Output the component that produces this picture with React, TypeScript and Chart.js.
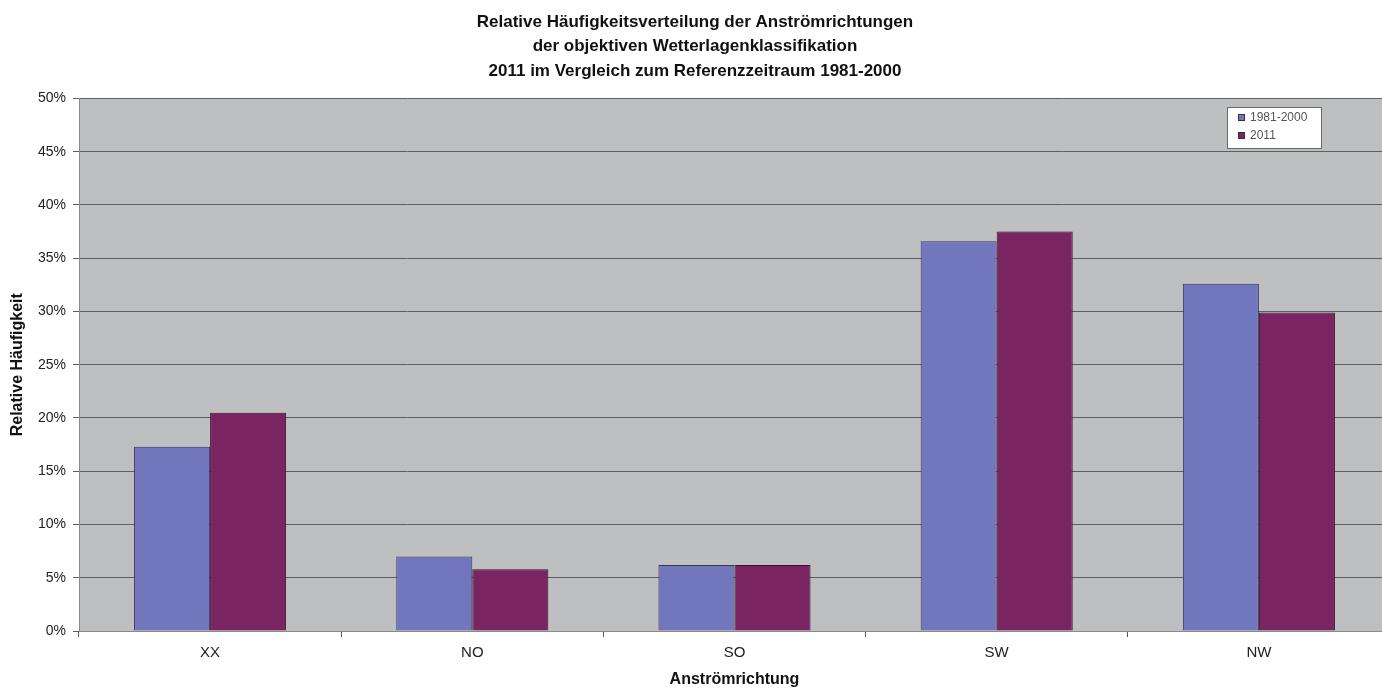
import React, { useEffect, useRef } from "react";
import { Chart, registerables } from "chart.js";

Chart.register(...registerables);

const categories = ["XX", "NO", "SO", "SW", "NW"];
const seriesLabels = ["1981-2000", "2011"];
const values1981 = [17.3, 7.0, 6.2, 36.6, 32.6];
const values2011 = [20.5, 5.8, 6.2, 37.5, 29.9];
const titleLines = [
  "Relative Häufigkeitsverteilung der Anströmrichtungen",
  "der objektiven Wetterlagenklassifikation",
  "2011 im Vergleich zum Referenzzeitraum 1981-2000",
];
const yTitle = "Relative Häufigkeit";
const xTitle = "Anströmrichtung";

const FONT = "'Liberation Sans', Arial, sans-serif";

const bgPlugin = {
  id: "plotBg",
  beforeDraw(chart: any) {
    const { ctx, chartArea } = chart;
    if (!chartArea) return;
    ctx.save();
    ctx.fillStyle = "#bdbfc0";
    ctx.fillRect(chartArea.left, chartArea.top, chartArea.right - chartArea.left, chartArea.bottom - chartArea.top);
    ctx.restore();
  },
};

const legendPlugin = {
  id: "boxLegend",
  afterDraw(chart: any) {
    const { ctx } = chart;
    const x = 1227, y = 107, w = 94, h = 41;
    ctx.save();
    ctx.fillStyle = "#ffffff";
    ctx.fillRect(x, y, w, h);
    ctx.strokeStyle = "#6a6a6a";
    ctx.lineWidth = 1;
    ctx.strokeRect(x + 0.5, y + 0.5, w, h);
    chart.data.datasets.forEach((ds: any, i: number) => {
      const iy = y + 10 + i * 18;
      ctx.fillStyle = ds.backgroundColor;
      ctx.fillRect(x + 11, iy - 3, 7, 7);
      ctx.strokeStyle = "#333";
      ctx.strokeRect(x + 11.5, iy - 2.5, 6, 6);
      ctx.fillStyle = "#555";
      ctx.font = `12px ${FONT}`;
      ctx.textBaseline = "middle";
      ctx.fillText(ds.label, x + 23, iy + 1);
    });
    ctx.restore();
  },
};

export default function App() {
  const ref = useRef<HTMLCanvasElement | null>(null);
  useEffect(() => {
    if (!ref.current) return;
    const chart = new Chart(ref.current, {
      type: "bar",
      data: {
        labels: categories,
        datasets: [
          {
            label: seriesLabels[0],
            data: values1981,
            backgroundColor: "#7276bd",
            borderColor: "#34365a",
            borderWidth: 1,
          },
          {
            label: seriesLabels[1],
            data: values2011,
            backgroundColor: "#7b2462",
            borderColor: "#3a1030",
            borderWidth: 1,
          },
        ],
      },
      options: {
        animation: false,
        responsive: true,
        maintainAspectRatio: false,
        layout: { padding: { left: 0, right: 0, top: 0, bottom: 0 } },
        datasets: { bar: { categoryPercentage: 0.58, barPercentage: 1.0 } },
        plugins: {
          legend: { display: false },
          tooltip: { enabled: false },
          title: {
            display: true,
            text: titleLines,
            color: "#111",
            font: { family: FONT, size: 17, weight: "bold", lineHeight: 1.44 },
            padding: { top: 10, bottom: 15 },
          },
        },
        scales: {
          x: {
            grid: {
              display: true,
              drawOnChartArea: false,
              offset: true,
              tickLength: 6,
              color: "#555",
            },
            border: { display: true, color: "#8a8a8a" },
            ticks: { color: "#222", font: { family: FONT, size: 15 }, padding: 7 },
            title: {
              display: true,
              text: xTitle,
              color: "#111",
              font: { family: FONT, size: 16, weight: "bold" },
              padding: { top: 0, bottom: 0 },
            },
            afterFit(scale: any) {
              scale.height = 58;
            },
          },
          y: {
            min: 0,
            max: 50,
            ticks: {
              stepSize: 5,
              color: "#222",
              font: { family: FONT, size: 14 },
              padding: 7,
              callback: (v: any) => v + "%",
            },
            grid: {
              color: "#5e5e5e",
              tickLength: 6,
              drawTicks: true,
            },
            border: { display: true, color: "#8a8a8a" },
            title: {
              display: true,
              text: yTitle,
              color: "#111",
              font: { family: FONT, size: 16, weight: "bold" },
              padding: { top: 8, bottom: 2 },
            },
            afterFit(scale: any) {
              scale.width = 79;
            },
          },
        },
      },
      plugins: [bgPlugin, legendPlugin],
    });
    return () => chart.destroy();
  }, []);
  return (
    <div style={{ position: "fixed", left: 0, top: 0, width: 1382, height: 689, overflow: "hidden", background: "#fff" }}>
      <div style={{ position: "relative", width: 1390, height: 689 }}>
        <canvas ref={ref} />
      </div>
    </div>
  );
}
